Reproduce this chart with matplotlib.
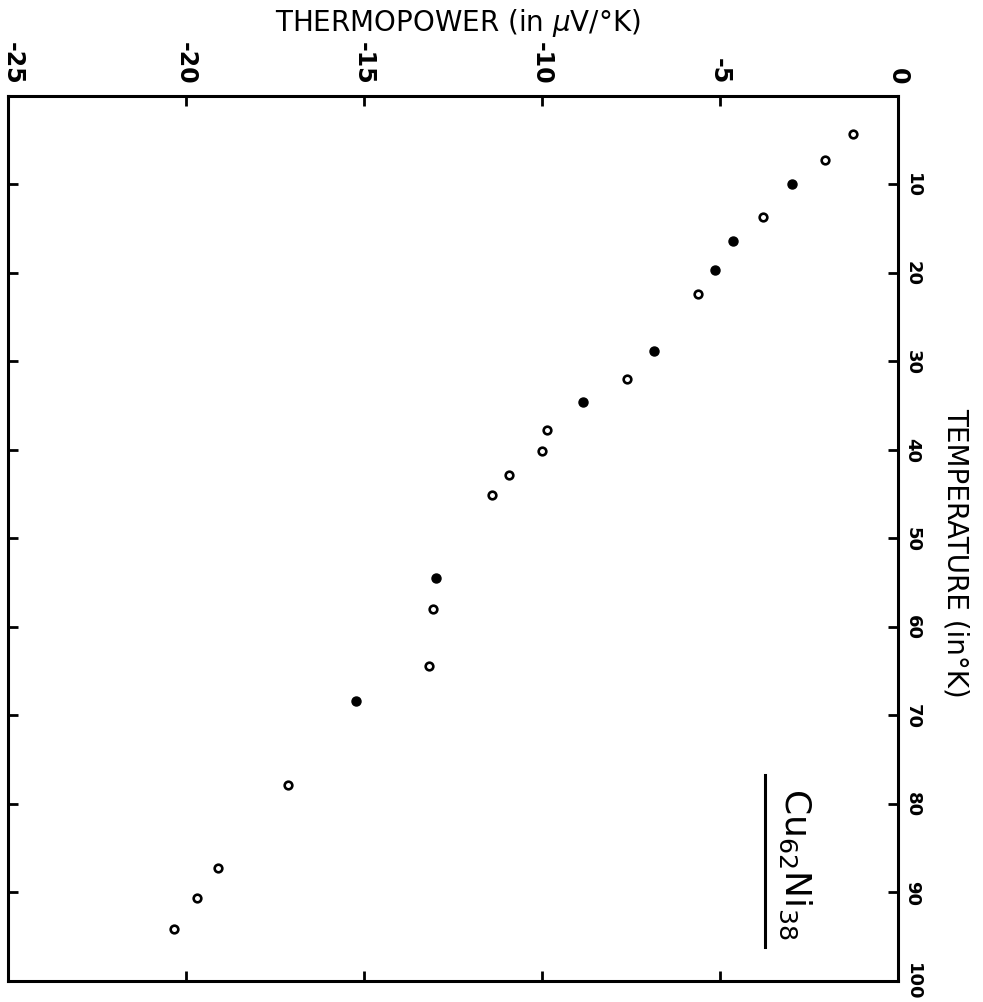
import matplotlib
matplotlib.use("Agg")
import matplotlib.pyplot as plt
import matplotlib.transforms as mtransforms

plt.rcParams['axes.unicode_minus'] = False

# Cu62Ni38 thermopower vs temperature
temperature = [4.3, 7.2, 9.9, 13.7, 16.4, 19.7, 22.4, 28.8, 32.0, 34.6, 37.7,
               40.1, 42.8, 45.1, 54.5, 58.0, 64.4, 68.4, 77.9, 87.2, 90.6, 94.1]
thermopower = [-1.26, -2.05, -2.98, -3.79, -4.63, -5.14, -5.62, -6.85, -7.61,
               -8.85, -9.86, -10.0, -10.93, -11.4, -12.98, -13.06, -13.17,
               -15.22, -17.13, -19.1, -19.69, -20.34]
filled = [False, False, True, False, True, True, False, True, False, True,
          False, False, False, False, True, False, False, True, False, False,
          False, False]

s_ticks = [-25, -20, -15, -10, -5, 0]
s_labels = ["-25", "-20", "-15", "-10", "-5", "0"]
t_ticks = [10, 20, 30, 40, 50, 60, 70, 80, 90, 100]
t_labels = [str(t) for t in t_ticks]

fig = plt.figure(figsize=(9.83, 10.03), dpi=100)
ax = fig.add_axes([0.008, 0.021, 0.9055, 0.8824])

ts_open = [t for t, f in zip(temperature, filled) if not f]
ss_open = [s for s, f in zip(thermopower, filled) if not f]
ts_fill = [t for t, f in zip(temperature, filled) if f]
ss_fill = [s for s, f in zip(thermopower, filled) if f]

ax.plot(ss_open, ts_open, 'o', ms=5.5, mfc='white', mec='black', mew=1.9)
ax.plot(ss_fill, ts_fill, 'o', ms=6.5, mfc='black', mec='black', mew=1)

ax.set_xlim(-25, 0)
ax.set_ylim(100, 0)

for sp in ax.spines.values():
    sp.set_linewidth(2.2)

ax.set_xticks(s_ticks)
ax.set_xticklabels(s_labels, rotation=-90, fontsize=17, fontweight='bold')
ax.set_yticks(t_ticks)
ax.set_yticklabels(t_labels, rotation=-90, fontsize=13, fontweight='bold',
                   va='center')
ax.tick_params(axis='both', direction='in', length=7, width=2,
               top=True, bottom=True, left=True, right=True,
               labeltop=True, labelbottom=False,
               labelright=True, labelleft=False)
ax.tick_params(axis='x', pad=9)
ax.tick_params(axis='y', pad=4)

# nudge the -25 label in from the figure edge
shift = mtransforms.ScaledTranslation(5 / 100, 0, fig.dpi_scale_trans)
first = ax.xaxis.get_major_ticks()[0].label2
first.set_transform(first.get_transform() + shift)

fig.text(458 / 983, 1 - 23 / 1003, "THERMOPOWER (in $\\mu$V/°K)",
         ha='center', va='center', fontsize=20)
fig.text(956 / 983, 1 - 553 / 1003, "TEMPERATURE (in°K)",
         ha='center', va='center', rotation=-90, fontsize=20)

# alloy label with rule beneath it
ax.text(0.884, 0.133, r"$\mathregular{Cu_{62}Ni_{38}}$", transform=ax.transAxes,
        ha='center', va='center', rotation=-90, fontsize=26)
ax.plot([0.8506, 0.8506], [0.2328, 0.0384], transform=ax.transAxes,
        color='black', lw=2.2)

fig.savefig("out.png", dpi=100, facecolor='white')
